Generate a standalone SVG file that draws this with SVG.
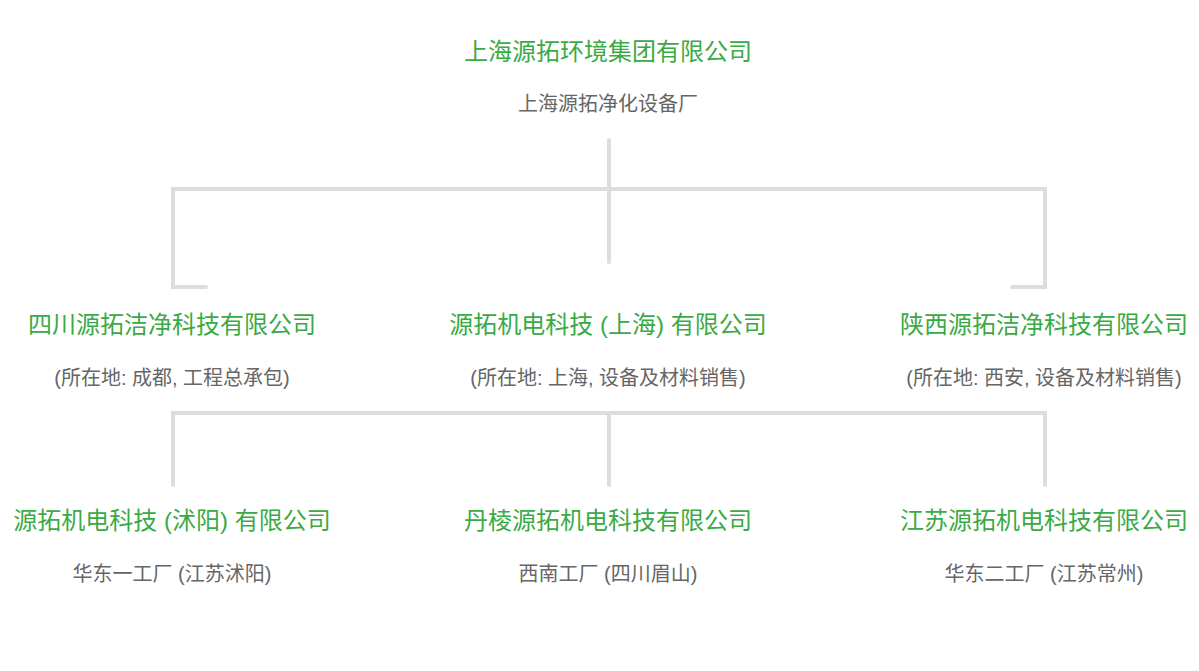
<svg xmlns="http://www.w3.org/2000/svg" width="1199" height="671" viewBox="0 0 1199 671">
<style>
.t{font-family:"Liberation Sans","Noto Sans CJK SC",sans-serif;font-size:24px;fill:#3aaa45;text-anchor:middle}
.s{font-family:"Liberation Sans","Noto Sans CJK SC",sans-serif;font-size:20px;fill:#666;text-anchor:middle}
.c{fill:none;stroke:#dddddd;stroke-width:4;stroke-linecap:round;stroke-linejoin:miter}
</style>
<rect width="1199" height="671" fill="#fff"/>
<g id="connectors">
<path class="c" d="M609 140V262"/>
<path class="c" d="M206 287H173V189H1045V287H1012"/>
<path class="c" d="M173 485V413H1045V485"/>
<path class="c" d="M609 413V485"/>
</g>
<g id="root"><text class="t" x="608" y="60">上海源拓环境集团有限公司</text><text class="s" x="608" y="111">上海源拓净化设备厂</text></g>
<g id="sichuan"><text class="t" x="172" y="333">四川源拓洁净科技有限公司</text><text class="s" x="172" y="385">(所在地: 成都, 工程总承包)</text></g>
<g id="shanghai"><text class="t" x="608" y="333">源拓机电科技 (上海) 有限公司</text><text class="s" x="608" y="385">(所在地: 上海, 设备及材料销售)</text></g>
<g id="shaanxi"><text class="t" x="1044" y="333">陕西源拓洁净科技有限公司</text><text class="s" x="1044" y="385">(所在地: 西安, 设备及材料销售)</text></g>
<g id="shuyang"><text class="t" x="172" y="529">源拓机电科技 (沭阳) 有限公司</text><text class="s" x="172" y="581">华东一工厂 (江苏沭阳)</text></g>
<g id="danleng"><text class="t" x="608" y="529">丹棱源拓机电科技有限公司</text><text class="s" x="608" y="581">西南工厂 (四川眉山)</text></g>
<g id="jiangsu"><text class="t" x="1044" y="529">江苏源拓机电科技有限公司</text><text class="s" x="1044" y="581">华东二工厂 (江苏常州)</text></g>
</svg>
